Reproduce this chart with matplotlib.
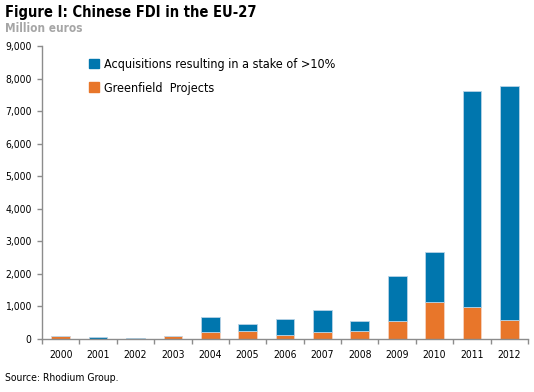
import matplotlib.pyplot as plt
from matplotlib import font_manager
from matplotlib.patches import Patch
from matplotlib.ticker import FuncFormatter

years = ['2000', '2001', '2002', '2003', '2004', '2005', '2006',
         '2007', '2008', '2009', '2010', '2011', '2012']
greenfield = [90, 5, 5, 100, 220, 250, 130, 220, 250, 550, 1140, 970, 590]
acquisitions = [0, 55, 15, 0, 460, 210, 470, 680, 310, 1380, 1540, 6650, 7170]

blue = '#0076ae'
orange = '#e8762a'
grey = '#8c8c8c'

# pick a narrow face if one is installed
fonts = font_manager.fontManager.ttflist
names = {f.name for f in fonts}
narrow = False
if 'Liberation Sans Narrow' in names:
    plt.rcParams['font.family'] = ['Liberation Sans Narrow', 'DejaVu Sans']
    narrow = True
elif any(f.name == 'DejaVu Sans' and f.stretch == 'condensed' for f in fonts):
    plt.rcParams['font.family'] = ['DejaVu Sans']
    plt.rcParams['font.stretch'] = 'condensed'
    narrow = True
else:
    plt.rcParams['font.family'] = ['Liberation Sans', 'DejaVu Sans']

k = 1.0 if narrow else 0.88

fig = plt.figure(figsize=(5.34, 3.92), dpi=100)
ax = fig.add_axes([42 / 534, 53 / 392, 486 / 534, 293 / 392])

x = range(len(years))
ax.bar(x, greenfield, width=0.5, color=orange, edgecolor='#f6d2c0', linewidth=0.6)
ax.bar(x, acquisitions, width=0.5, bottom=greenfield, color=blue,
       edgecolor='#b8d3e6', linewidth=0.6)

ax.set_xlim(-0.5, 12.5)
ax.set_ylim(0, 9000)
ax.set_yticks(range(0, 9001, 1000))
ax.yaxis.set_major_formatter(FuncFormatter(lambda v, p: f'{int(v):,}'))
ax.set_xticks([i - 0.5 for i in range(len(years) + 1)])
ax.set_xticklabels([])
ax.set_xticks(list(x), minor=True)
ax.set_xticklabels(years, minor=True)
ax.tick_params(axis='x', which='minor', length=0, pad=8, labelsize=7.5 * k)
ax.tick_params(axis='x', which='major', length=3.5, color=grey, width=1)
ax.tick_params(axis='y', length=3.5, color=grey, width=1, labelsize=7.5 * k, pad=4)

for s in ['top', 'right']:
    ax.spines[s].set_visible(False)
for s in ['left', 'bottom']:
    ax.spines[s].set_color(grey)
    ax.spines[s].set_linewidth(1)

handles = [Patch(color=blue, label='Acquisitions resulting in a stake of >10%'),
           Patch(color=orange, label='Greenfield  Projects')]
ax.legend(handles=handles, loc='upper left', bbox_to_anchor=(0.09, 0.972),
          borderaxespad=0, borderpad=0.3, frameon=False, fontsize=9 * k,
          handlelength=0.8, handleheight=0.8, handletextpad=0.4,
          labelspacing=0.85)

fig.text(5 / 534, 1 - 13 / 392, 'Figure I: Chinese FDI in the EU-27',
         fontsize=10.5 * k, fontweight='bold', va='center')
fig.text(5 / 534, 1 - 28 / 392, 'Million euros', fontsize=8.5 * k,
         fontweight='bold', color='#a6a6a6', va='center')
fig.text(5 / 534, 1 - 378 / 392, 'Source: Rhodium Group.', fontsize=7.5 * k,
         va='center')

fig.savefig('out.png', dpi=100)
